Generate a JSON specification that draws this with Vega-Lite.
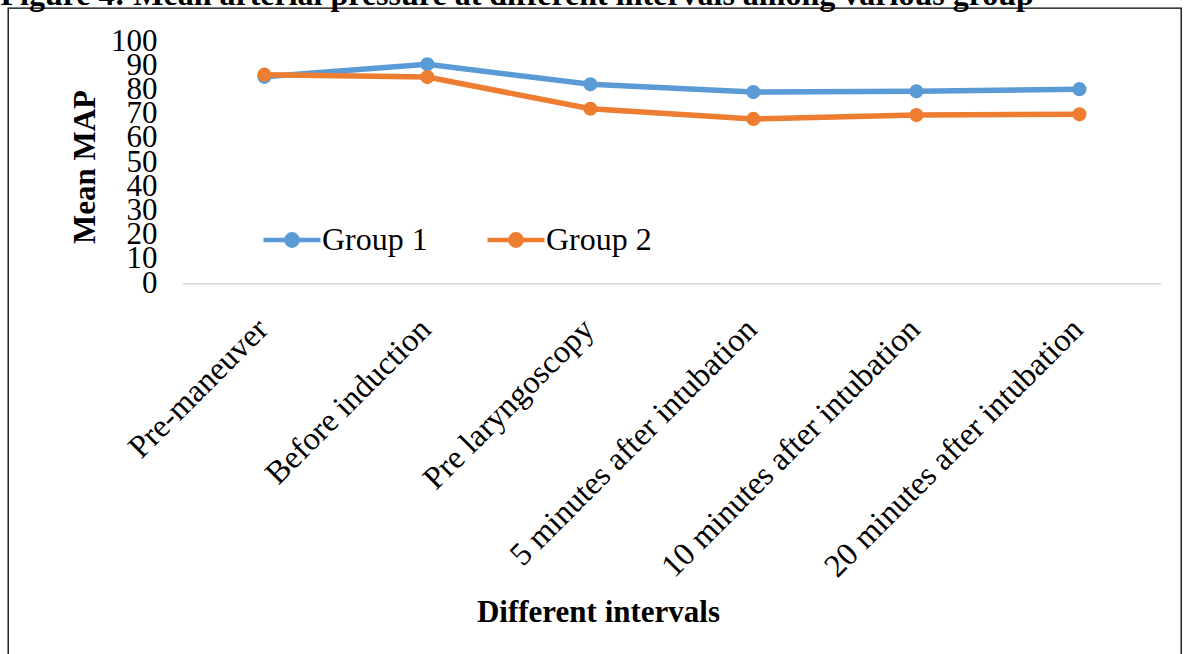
{
  "$schema": "https://vega.github.io/schema/vega-lite/v6.json",
  "width": 1173,
  "height": 648,
  "autosize": "none",
  "padding": {"left": 8, "top": 8, "right": 7, "bottom": 0},
  "background": "white",
  "data": {
    "values": [
      {"interval": "Pre-maneuver", "group": "Group 1", "map": 85.2},
      {"interval": "Before induction", "group": "Group 1", "map": 90.4},
      {"interval": "Pre laryngoscopy", "group": "Group 1", "map": 82.1},
      {"interval": "5 minutes after intubation", "group": "Group 1", "map": 78.9},
      {"interval": "10 minutes after intubation", "group": "Group 1", "map": 79.2},
      {"interval": "20 minutes after intubation", "group": "Group 1", "map": 80.1},
      {"interval": "Pre-maneuver", "group": "Group 2", "map": 86.1},
      {"interval": "Before induction", "group": "Group 2", "map": 85.1},
      {"interval": "Pre laryngoscopy", "group": "Group 2", "map": 72.0},
      {"interval": "5 minutes after intubation", "group": "Group 2", "map": 67.8},
      {"interval": "10 minutes after intubation", "group": "Group 2", "map": 69.4},
      {"interval": "20 minutes after intubation", "group": "Group 2", "map": 69.7}
    ]
  },
  "config": {
    "view": {"stroke": "black", "strokeWidth": 1.3},
    "font": "Liberation Serif"
  },
  "resolve": {"axis": {"x": "independent"}},
  "layer": [
    {
      "transform": [{"filter": "datum.group === 'Group 1'"}],
      "mark": {"type": "bar", "color": "#D9D9D9"},
      "encoding": {
        "x": {
          "field": "interval",
          "type": "nominal",
          "sort": null,
          "scale": {"type": "band", "paddingInner": 0, "paddingOuter": 0.598, "align": 0.897},
          "axis": {
            "orient": "top",
            "labels": false,
            "ticks": false,
            "domain": false,
            "title": "Figure 4: Mean arterial pressure at different intervals among various group",
            "titleFont": "Liberation Serif",
            "titleFontSize": 32,
            "titleFontWeight": "bold",
            "titleColor": "black",
            "titleAnchor": "start",
            "titleAlign": "left",
            "titleBaseline": "alphabetic",
            "titleLimit": 3000,
            "titleX": -8,
            "titleY": -4
          }
        },
        "y": {
          "datum": 0,
          "type": "quantitative",
          "scale": {"domain": [-154.13, 113.64], "nice": false, "zero": false},
          "axis": {
            "offset": -175,
            "values": [0, 10, 20, 30, 40, 50, 60, 70, 80, 90, 100],
            "domain": false, "ticks": false, "grid": false,
            "labelPadding": 26, "labelFont": "Liberation Serif", "labelFontSize": 31,
            "labelColor": "black", "labelOverlap": false, "labelBaseline": "middle",
            "title": "Mean MAP", "titleFont": "Liberation Serif", "titleFontSize": 31,
            "titleFontWeight": "bold", "titleColor": "black", "titleAngle": -90,
            "titleAlign": "center", "titleBaseline": "middle", "titleX": -98, "titleY": 158.5
          }
        },
        "y2": {"datum": -0.6}
      }
    },
    {
      "mark": {"type": "line", "strokeWidth": 5.5},
      "encoding": {
        "x": {
          "field": "interval",
          "type": "nominal",
          "sort": null,
          "scale": {"type": "band", "paddingInner": 0, "paddingOuter": 0.598, "align": 0.897},
          "axis": {
            "orient": "bottom",
            "offset": -372.5,
            "domain": false,
            "ticks": false,
            "labelAngle": -45,
            "labelAlign": "right",
            "labelBaseline": "top",
            "labelPadding": 29,
            "labelOffset": -13,
            "labelFont": "Liberation Serif",
            "labelFontSize": 32.4,
            "labelColor": "black",
            "labelOverlap": false,
            "labelLimit": 0,
            "title": "Different intervals",
            "titleFont": "Liberation Serif",
            "titleFontSize": 31,
            "titleFontWeight": "bold",
            "titleColor": "black",
            "titleBaseline": "middle",
            "titleAlign": "center",
            "titleY": 329,
            "titleX": 590
          }
        },
        "y": {
          "field": "map",
          "type": "quantitative",
          "scale": {"domain": [-154.13, 113.64], "nice": false, "zero": false},
          "axis": {
            "offset": -175,
            "values": [0, 10, 20, 30, 40, 50, 60, 70, 80, 90, 100],
            "domain": false, "ticks": false, "grid": false,
            "labelPadding": 26, "labelFont": "Liberation Serif", "labelFontSize": 31,
            "labelColor": "black", "labelOverlap": false, "labelBaseline": "middle",
            "title": "Mean MAP", "titleFont": "Liberation Serif", "titleFontSize": 31,
            "titleFontWeight": "bold", "titleColor": "black", "titleAngle": -90,
            "titleAlign": "center", "titleBaseline": "middle", "titleX": -98, "titleY": 158.5
          }
        },
        "color": {
          "field": "group",
          "type": "nominal",
          "scale": {"domain": ["Group 1", "Group 2"], "range": ["#5B9BD5", "#ED7D31"]},
          "legend": {
            "orient": "none",
            "legendX": 253,
            "legendY": 201,
            "direction": "horizontal",
            "title": null,
            "symbolType": "M-1,0H1M0.2,0A0.2,0.2,0,1,1,-0.2,0A0.2,0.2,0,1,1,0.2,0Z",
            "symbolSize": 3249,
            "symbolStrokeWidth": 4.5,
            "labelFont": "Liberation Serif",
            "labelFontSize": 32,
            "labelColor": "black",
            "labelOffset": -1,
            "columnPadding": 50,
            "padding": 0,
            "encode": {
              "symbols": {
                "update": {
                  "fill": {"scale": "color", "field": "value"},
                  "stroke": {"scale": "color", "field": "value"},
                  "opacity": {"value": 1}
                }
              }
            }
          }
        }
      }
    },
    {
      "mark": {"type": "point", "filled": true, "size": 200, "opacity": 1},
      "encoding": {
        "x": {
          "field": "interval",
          "type": "nominal",
          "sort": null,
          "scale": {"type": "band", "paddingInner": 0, "paddingOuter": 0.598, "align": 0.897},
          "axis": null
        },
        "y": {
          "field": "map",
          "type": "quantitative",
          "scale": {"domain": [-154.13, 113.64], "nice": false, "zero": false},
          "axis": {
            "offset": -175,
            "values": [0, 10, 20, 30, 40, 50, 60, 70, 80, 90, 100],
            "domain": false, "ticks": false, "grid": false,
            "labelPadding": 26, "labelFont": "Liberation Serif", "labelFontSize": 31,
            "labelColor": "black", "labelOverlap": false, "labelBaseline": "middle",
            "title": "Mean MAP", "titleFont": "Liberation Serif", "titleFontSize": 31,
            "titleFontWeight": "bold", "titleColor": "black", "titleAngle": -90,
            "titleAlign": "center", "titleBaseline": "middle", "titleX": -98, "titleY": 158.5
          }
        },
        "color": {"field": "group", "type": "nominal"}
      }
    }
  ]
}
